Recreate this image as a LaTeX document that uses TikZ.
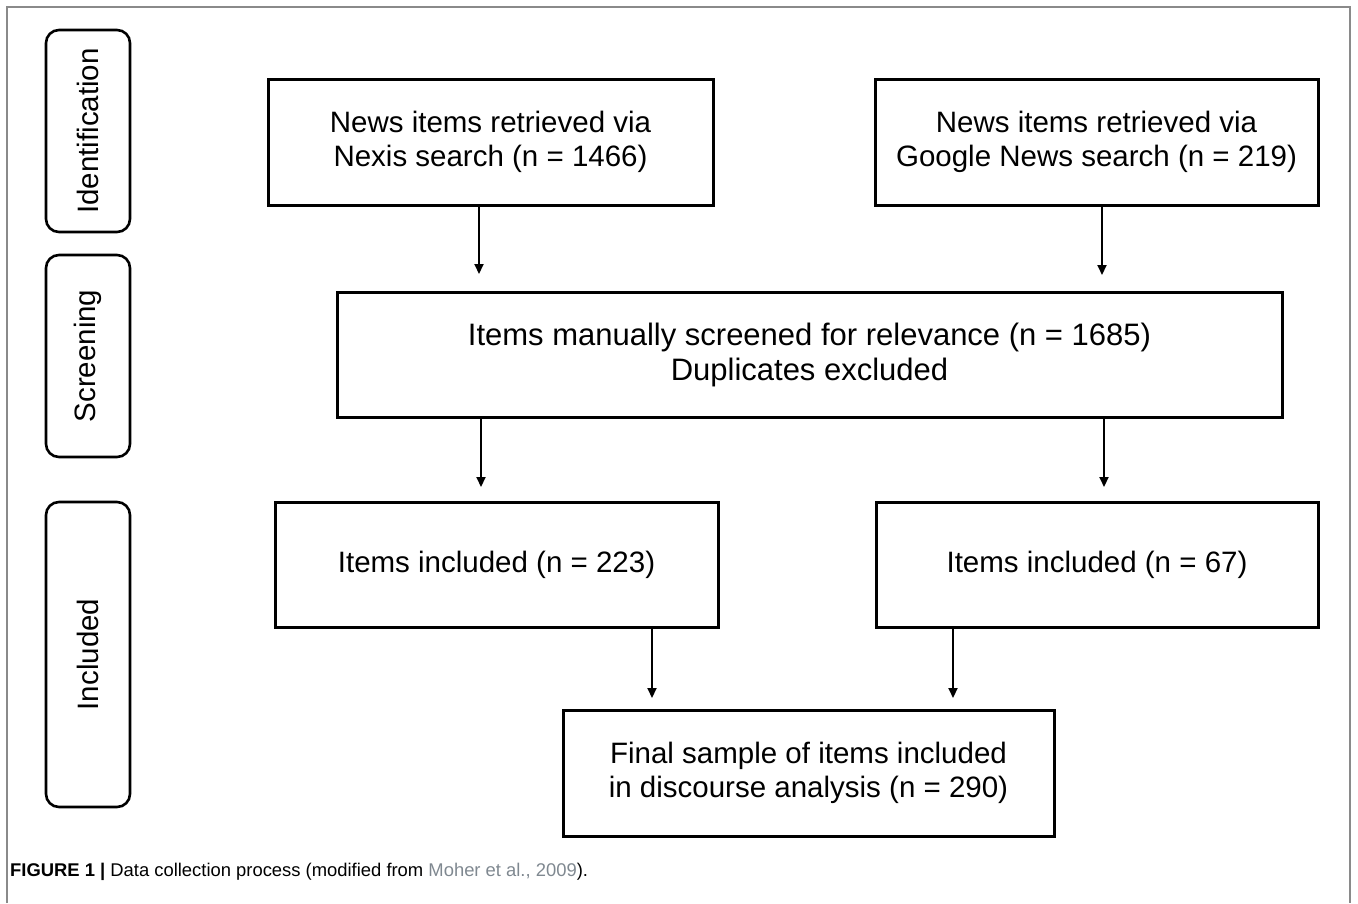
\documentclass[tikz,border=0pt]{standalone}
\usepackage{fontspec}
\setmainfont{Liberation Sans}
\usetikzlibrary{arrows.meta}
\definecolor{framegray}{HTML}{8A8A8A}
\definecolor{citegray}{HTML}{7F8890}

\begin{document}
\begin{tikzpicture}[x=1pt, y=-1pt,
  stage/.style={draw, line width=2.6pt, rounded corners=13pt, rotate=90, minimum height=84pt, inner sep=0pt, font=\fontsize{29.5}{34}\selectfont},
  box/.style={draw, line width=3pt, align=center, inner sep=0pt, font=\fontsize{29.5}{34}\selectfont},
  flow/.style={line width=2pt, -{Triangle[width=9pt,length=10pt]}}]
          \useasboundingbox (0,0) rectangle (1358,903);
          \draw[framegray, line width=1.5pt] (7,903) -- (7,7) -- (1350,7) -- (1350,903);
          % stages
          \node[stage, minimum width=202pt](id)   at (88,131)     {Identification};
          \node[stage, minimum width=202pt](scr)  at (88,356)     {Screening};
          \node[stage, minimum width=305pt](inc)  at (88,654.5)   {Included};
          % boxes
          \node[box, minimum width=445pt, minimum height=126pt](nexis)  at (490.5,142)   {News items retrieved via\\Nexis search (n = 1466)};
          \node[box, minimum width=443pt, minimum height=126pt](google) at (1096.5,142)  {News items retrieved via\\Google News search (n = 219)};
          \node[box, minimum width=945pt, minimum height=125pt, font=\fontsize{31}{35}\selectfont](screen) at (809.5,354.5) {Items manually screened for relevance (n = 1685)\\Duplicates excluded};
          \node[box, minimum width=443pt, minimum height=125pt](inclA)  at (496.5,564.5) {Items included (n = 223)};
          \node[box, minimum width=442pt, minimum height=125pt](inclB)  at (1097,564.5)  {Items included (n = 67)};
          \node[box, minimum width=491pt, minimum height=126pt](final)  at (808.5,773)   {Final sample of items included\\in discourse analysis (n = 290)};
          % arrow tips
          \coordinate (t1) at (479,274);
          \coordinate (t2) at (1102,275);
          \coordinate (t3) at (481,487);
          \coordinate (t4) at (1104,487);
          \coordinate (t5) at (652,698);
          \coordinate (t6) at (953,698);
          \path[flow]
            (nexis.south -| t1)  edge (t1)
            (google.south -| t2) edge (t2)
            (screen.south -| t3) edge (t3)
            (screen.south -| t4) edge (t4)
            (inclA.south -| t5)  edge (t5)
            (inclB.south -| t6)  edge (t6)
            ;
          \node[anchor=base west, inner sep=0pt, font=\fontsize{18.4}{22}\selectfont](caption) at (10,876)
            {\textbf{FIGURE 1 |} Data collection process (modified from \textcolor{citegray}{Moher et al., 2009}).};
        \end{tikzpicture}
\end{document}
